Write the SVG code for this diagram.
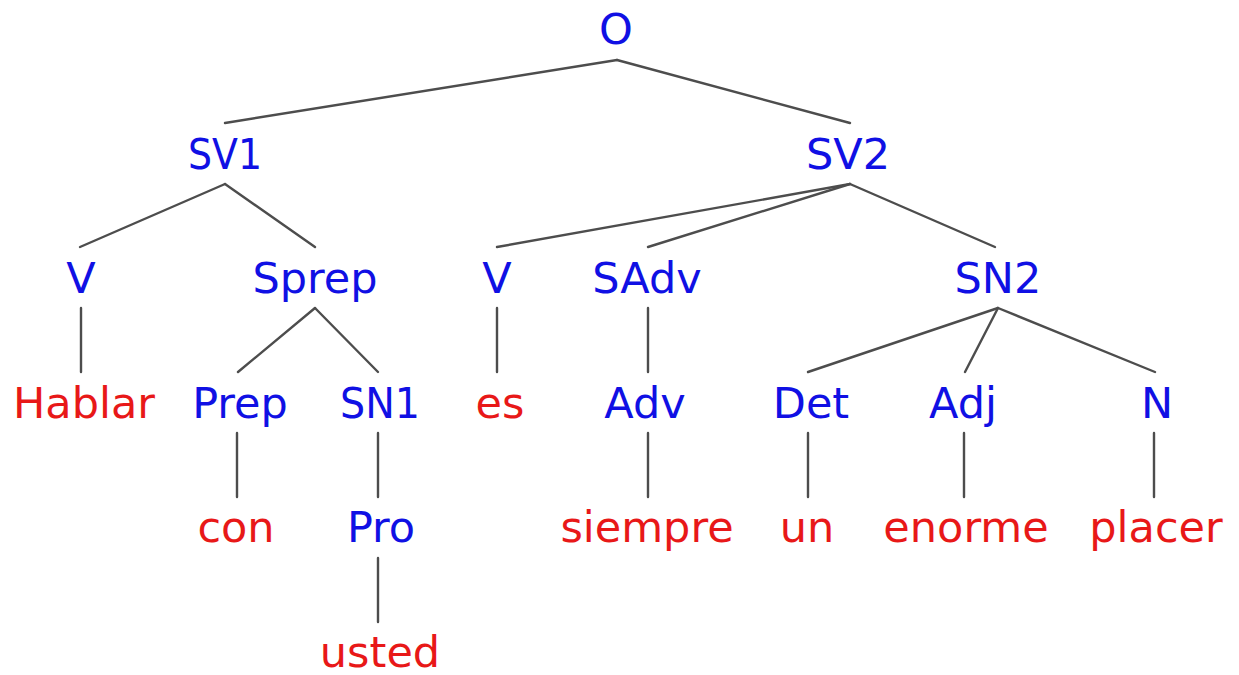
<svg xmlns="http://www.w3.org/2000/svg" width="1239" height="675" viewBox="0 0 1239 675">
<style>
text{font-family:"DejaVu Sans","Liberation Sans",sans-serif;font-size:43px;text-anchor:middle}
.c{fill:#1010e4}
.w{fill:#e81818}
.e line{stroke:#4d4d4d;stroke-width:2.4;stroke-linecap:round}
</style>
<rect width="1239" height="675" fill="#fff"/>
<g class="e" id="connectors">
<line x1="617" y1="60" x2="225" y2="123"/>
<line x1="617" y1="60" x2="850" y2="123"/>
<line x1="225" y1="184" x2="80" y2="247"/>
<line x1="225" y1="184" x2="315" y2="247"/>
<line x1="850" y1="184" x2="497" y2="247"/>
<line x1="850" y1="184" x2="648" y2="247"/>
<line x1="850" y1="184" x2="995" y2="247"/>
<line x1="81" y1="308" x2="81" y2="372"/>
<line x1="315" y1="308" x2="238" y2="372"/>
<line x1="315" y1="308" x2="378" y2="372"/>
<line x1="497" y1="308" x2="497" y2="372"/>
<line x1="648" y1="308" x2="648" y2="372"/>
<line x1="998" y1="308" x2="808" y2="372"/>
<line x1="998" y1="308" x2="965" y2="372"/>
<line x1="998" y1="308" x2="1155" y2="372"/>
<line x1="237" y1="433" x2="237" y2="497"/>
<line x1="378" y1="433" x2="378" y2="497"/>
<line x1="648" y1="433" x2="648" y2="497"/>
<line x1="808" y1="433" x2="808" y2="497"/>
<line x1="964" y1="433" x2="964" y2="497"/>
<line x1="1154" y1="433" x2="1154" y2="497"/>
<line x1="378" y1="558" x2="378" y2="622"/>
</g>
<g id="n-O"><text class="c" x="616" y="44">O</text></g>
<g id="n-SV1"><text class="c" x="225" y="169" textLength="74" lengthAdjust="spacingAndGlyphs">SV1</text></g>
<g id="n-SV2"><text class="c" x="848" y="169">SV2</text></g>
<g id="n-V1"><text class="c" x="81" y="293">V</text></g>
<g id="n-Sprep"><text class="c" x="315" y="293">Sprep</text></g>
<g id="n-V2"><text class="c" x="497" y="293">V</text></g>
<g id="n-SAdv"><text class="c" x="647" y="293">SAdv</text></g>
<g id="n-SN2"><text class="c" x="998" y="293">SN2</text></g>
<g id="n-Hablar"><text class="w" x="84" y="418">Hablar</text></g>
<g id="n-Prep"><text class="c" x="240" y="418">Prep</text></g>
<g id="n-SN1"><text class="c" x="380" y="418" textLength="80" lengthAdjust="spacingAndGlyphs">SN1</text></g>
<g id="n-es"><text class="w" x="500" y="418">es</text></g>
<g id="n-Adv"><text class="c" x="645" y="418">Adv</text></g>
<g id="n-Det"><text class="c" x="811" y="418">Det</text></g>
<g id="n-Adj"><text class="c" x="963" y="418">Adj</text></g>
<g id="n-N"><text class="c" x="1157" y="418">N</text></g>
<g id="n-con"><text class="w" x="236" y="542">con</text></g>
<g id="n-Pro"><text class="c" x="381" y="542">Pro</text></g>
<g id="n-siempre"><text class="w" x="647" y="542">siempre</text></g>
<g id="n-un"><text class="w" x="807" y="542">un</text></g>
<g id="n-enorme"><text class="w" x="966" y="542">enorme</text></g>
<g id="n-placer"><text class="w" x="1156" y="542">placer</text></g>
<g id="n-usted"><text class="w" x="380" y="667">usted</text></g>
</svg>
